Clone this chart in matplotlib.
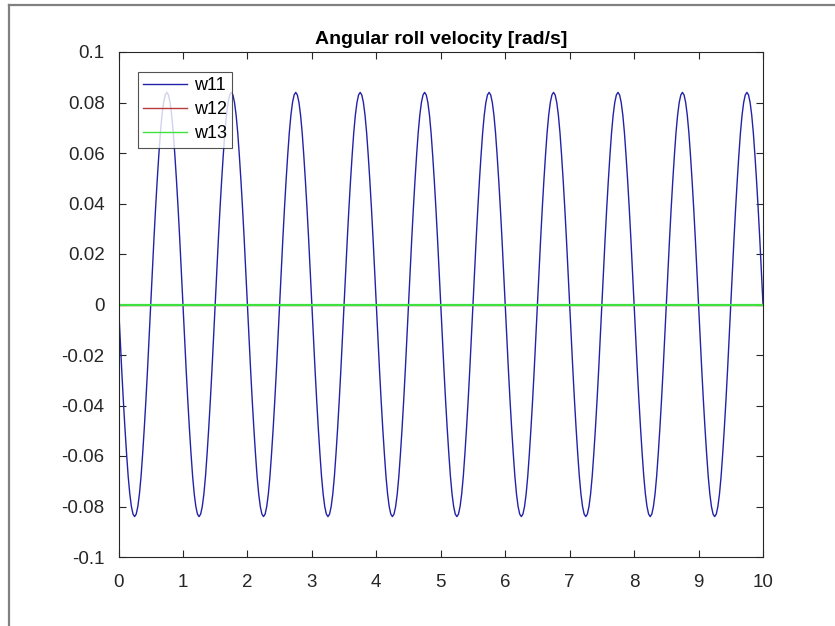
import numpy as np
import matplotlib
matplotlib.use("Agg")
import matplotlib.pyplot as plt
from matplotlib.lines import Line2D

plt.rcParams['font.family'] = ['Liberation Sans', 'DejaVu Sans']
plt.rcParams['axes.unicode_minus'] = False

dt = 0.025
n_periods = 10
w11_cycle = [0.0, -0.013, -0.026, -0.038, -0.049, -0.059, -0.068, -0.075, -0.080, -0.083,
             -0.084, -0.083, -0.080, -0.075, -0.068, -0.059, -0.049, -0.038, -0.026, -0.013,
             0.0, 0.013, 0.026, 0.038, 0.049, 0.059, 0.068, 0.075, 0.080, 0.083,
             0.084, 0.083, 0.080, 0.075, 0.068, 0.059, 0.049, 0.038, 0.026, 0.013]
w11 = np.array(w11_cycle * n_periods + [0.0])
t = np.arange(len(w11)) * dt
w12 = np.zeros_like(t)
w13 = np.zeros_like(t)

series_names = ['w11', 'w12', 'w13']
series_colors = ['#2222a8', '#b83c3c', '#3ee23e']
series_widths = [1.0, 1.0, 1.6]

yticks = [0.1, 0.08, 0.06, 0.04, 0.02, 0, -0.02, -0.04, -0.06, -0.08, -0.1]
ytick_labels = ['0.1', '0.08', '0.06', '0.04', '0.02', '0', '-0.02', '-0.04', '-0.06', '-0.08', '-0.1']
xticks = list(range(0, 11))

W, H = 835, 626
x0, x1, y0, y1 = 118.5, 763, 52, 557   # axes box in pixels (top-down)

fig = plt.figure(figsize=(W / 100, H / 100), dpi=100)
ax = fig.add_axes([x0 / W, 1 - y1 / H, (x1 - x0) / W, (y1 - y0) / H])

for y, name, col, lw in zip([w11, w12, w13], series_names, series_colors, series_widths):
    ax.plot(t, y, color=col, lw=lw, label=name)

ax.set_xlim(0, 10)
ax.set_ylim(-0.1, 0.1)
ax.set_xticks(xticks)
ax.set_xticklabels([str(x) for x in xticks])
ax.set_yticks(yticks)
ax.set_yticklabels(ytick_labels)
ax.tick_params(direction='in', top=True, right=True, length=5, width=0.8,
               labelsize=13.5, colors='#262626')
ax.tick_params(axis='x', pad=12)
ax.tick_params(axis='y', pad=10)
for s in ax.spines.values():
    s.set_color('#262626')
    s.set_linewidth(0.8)

ax.set_title('Angular roll velocity [rad/s]', fontsize=14, fontweight='bold', pad=6)

leg = ax.legend(loc='upper left',
                bbox_to_anchor=(19.5 / (x1 - x0), 1 - 20 / (y1 - y0)), fontsize=13,
                frameon=True, fancybox=False, borderaxespad=0, handlelength=2.4,
                handletextpad=0.4, labelspacing=0.38, borderpad=0.3)
leg.get_frame().set_edgecolor('#262626')
leg.get_frame().set_linewidth(0.8)
for h in leg.get_lines():
    h.set_linewidth(1.0)

# gray frame lines on top and left edges of the picture
fig.add_artist(Line2D([8.5 / W, 8.5 / W], [0, 1 - 4.5 / H], transform=fig.transFigure,
                      color='#808080', lw=1.6))
fig.add_artist(Line2D([8.5 / W, 1], [1 - 4.5 / H, 1 - 4.5 / H], transform=fig.transFigure,
                      color='#808080', lw=1.6))

fig.savefig('out.png', dpi=100)
